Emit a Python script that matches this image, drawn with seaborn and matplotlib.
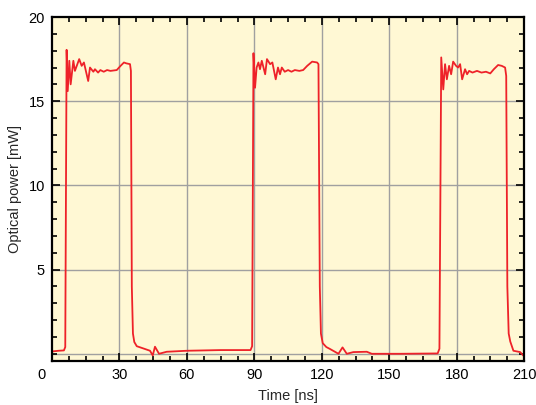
import numpy as np
import pandas as pd
import seaborn as sns
import matplotlib.pyplot as plt
from matplotlib.ticker import MultipleLocator
from matplotlib.transforms import ScaledTranslation

# data
time_ns = [0, 3, 5.3, 5.9, 6.5, 7.0, 7.7, 8.3, 9.5, 10.2, 12.1, 13.2, 14.2, 16.1, 16.9,
           18.4, 19.1, 20.5, 21.5, 23, 24.5, 26, 28.8, 30.5, 32.0, 33.0, 34.7, 35.1,
           35.5, 36.0, 36.6, 37.7, 41, 43.6, 44.8, 45.8, 47.6, 51, 60, 75, 88.3, 89.0,
           89.6, 90.3, 91.0, 91.8, 92.5, 93.3, 94.8, 95.6, 97, 98, 99.5, 100.5, 101.4,
           102.2, 103.5, 105, 106.5, 108, 110, 111.7, 113.5, 115.7, 117.9, 118.5,
           119.1, 119.6, 120.4, 122, 123.7, 127.4, 129.2, 131.1, 134, 140, 142.2,
           155, 171.5, 172.3, 173.1, 174.0, 174.8, 175.6, 176.6, 177.5, 178.4, 179.7,
           180.6, 181.5, 182.4, 183.7, 184.6, 185.5, 187, 189, 191, 193, 194.9, 196.5,
           198.4, 200, 201.5, 202.0, 202.5, 203.1, 203.8, 205.2, 208.2, 210]
power_mw = [0.14, 0.18, 0.2, 0.4, 18.05, 15.6, 17.4, 16.0, 17.4, 16.8, 17.5, 17.1, 17.3,
            16.2, 17.0, 16.75, 16.9, 16.7, 16.85, 16.75, 16.85, 16.8, 16.85, 17.1,
            17.3, 17.25, 17.2, 16.8, 4.0, 1.2, 0.7, 0.45, 0.3, 0.18, -0.1, 0.42, 0.0,
            0.12, 0.18, 0.22, 0.22, 0.45, 17.85, 15.8, 17.0, 17.3, 16.9, 17.4, 16.6,
            17.5, 17.2, 17.3, 16.3, 17.0, 16.6, 17.0, 16.75, 16.85, 16.75, 16.85, 16.8,
            16.85, 17.1, 17.35, 17.3, 17.2, 4.0, 1.2, 0.63, 0.4, 0.28, 0.0, 0.38, 0.0,
            0.1, 0.12, 0.0, 0.0, 0.02, 0.3, 17.6, 15.7, 17.2, 16.3, 17.1, 16.6, 17.35,
            17.1, 17.0, 17.2, 16.3, 16.9, 16.6, 16.8, 16.7, 16.8, 16.7, 16.75, 16.65,
            16.9, 17.15, 17.1, 17.0, 16.5, 4.0, 1.2, 0.73, 0.18, 0.1, -0.16]

x_ticks = [0, 30, 60, 90, 120, 150, 180, 210]
y_ticks = [5, 10, 15, 20]

df = pd.DataFrame({'time': time_ns, 'power': power_mw})

sns.set_style('ticks')
plt.rcParams['font.family'] = ['Liberation Sans', 'DejaVu Sans']

fig = plt.figure(figsize=(5.36, 4.05), dpi=100)
ax = fig.add_axes([0.097, 0.109, 0.881, 0.849])
ax.set_facecolor('#FFF8D4')

sns.lineplot(data=df, x='time', y='power', sort=False, estimator=None,
             color='#EE2229', linewidth=1.3, ax=ax)

ax.set_xlim(0, 210)
ax.set_ylim(-0.42, 20)
ax.set_xticks(x_ticks)
ax.set_yticks(y_ticks)
ax.xaxis.set_minor_locator(MultipleLocator(7.5))
ax.yaxis.set_minor_locator(MultipleLocator(1))

# gridlines at the major ticks plus the zero line
for xv in x_ticks[1:-1]:
    ax.axvline(xv, color='#A0A0A0', lw=1, zorder=0.5)
for yv in [0, 5, 10, 15]:
    ax.axhline(yv, color='#A0A0A0', lw=1, zorder=0.5)

ax.tick_params(which='both', direction='in', top=True, right=True,
               colors='black', labelsize=10.5, width=1.2)
ax.tick_params(which='major', length=6, pad=5)
ax.tick_params(which='minor', length=3.5)
for sp in ax.spines.values():
    sp.set_linewidth(1.6)
    sp.set_color('black')

# "0" label sits a bit left of the origin
lab0 = ax.get_xticklabels()[0]
lab0.set_transform(lab0.get_transform() + ScaledTranslation(-10 / 100, 0, fig.dpi_scale_trans))

ax.set_xlabel('Time [ns]', fontsize=10.5, labelpad=5)
ax.set_ylabel('Optical power [mW]', fontsize=10.5, labelpad=5)

plt.savefig('out.png', dpi=100)
